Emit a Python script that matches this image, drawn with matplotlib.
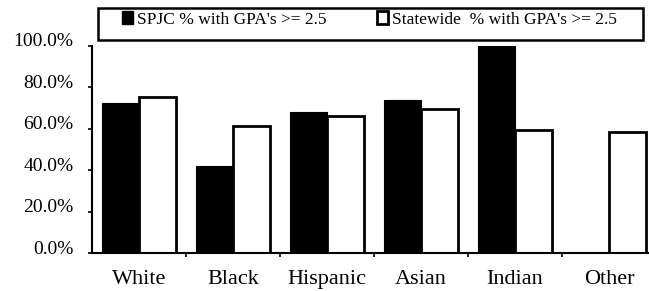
import matplotlib
matplotlib.use("Agg")
import matplotlib.pyplot as plt
import matplotlib.transforms as mtransforms
import numpy as np
from matplotlib.patches import Patch, Rectangle

categories = ["White", "Black", "Hispanic", "Asian", "Indian", "Other"]
spjc = [0.723, 0.422, 0.680, 0.739, 1.000, 0.0]
statewide = [0.755, 0.615, 0.663, 0.696, 0.594, 0.586]
ytick_vals = [0.0, 0.2, 0.4, 0.6, 0.8, 1.0]
ytick_labels = ["0.0%", "20.0%", "40.0%", "60.0%", "80.0%", "100.0%"]
legend_labels = ["SPJC % with GPA's >= 2.5", "Statewide  % with GPA's >= 2.5"]

plt.rcParams['font.family'] = ['Liberation Serif', 'DejaVu Serif']

W, H = 649, 291
fig = plt.figure(figsize=(W / 100, H / 100), dpi=100)
ax = fig.add_axes([92 / W, (H - 253) / H, 564 / W, 207 / H])

x = np.arange(len(categories))
bw = 0.395
ax.bar(x - bw / 2, spjc, width=bw, color="black", edgecolor="black", linewidth=0.8)
ax.bar(x + bw / 2, statewide, width=bw, color="white", edgecolor="black", linewidth=2.0)

ax.set_xlim(-0.5, len(categories) - 0.5)
ax.set_ylim(0, 1.0)

ax.set_yticks(ytick_vals)
ax.set_yticklabels(ytick_labels, fontsize=14)
ax.tick_params(axis="y", direction="out", length=3, width=1.2, pad=10.5)
shift = mtransforms.ScaledTranslation(0, 6 / 100, fig.dpi_scale_trans)
for lab in ax.get_yticklabels():
    lab.set_transform(lab.get_transform() + shift)

ax.set_xticks(x[:-1] + 0.5)
ax.set_xticklabels([])
ax.tick_params(axis="x", which="major", direction="out", length=3, width=1.2)
ax.set_xticks(x, minor=True)
ax.set_xticklabels(categories, minor=True, fontsize=16)
ax.tick_params(axis="x", which="minor", length=0, pad=12)

for s in ["top", "right"]:
    ax.spines[s].set_visible(False)
for s in ["left", "bottom"]:
    ax.spines[s].set_linewidth(1.5)
    ax.spines[s].set_color("black")

handles = [Patch(facecolor="black", edgecolor="black"),
           Patch(facecolor="white", edgecolor="black", linewidth=2)]
fig.legend(handles, legend_labels, loc="upper left",
           bbox_to_anchor=(122 / W, 1 - 11 / H), bbox_transform=fig.transFigure,
           ncol=2, frameon=False, fontsize=12.5, borderpad=0, borderaxespad=0,
           handlelength=0.62, handleheight=0.8, handletextpad=0.25,
           columnspacing=2.9)
fig.patches.append(Rectangle((98 / W, 1 - 40 / H), 545 / W, 32 / H,
                             transform=fig.transFigure, fill=False,
                             edgecolor="black", linewidth=1.8))

fig.savefig("out.png", dpi=100, facecolor="white")
